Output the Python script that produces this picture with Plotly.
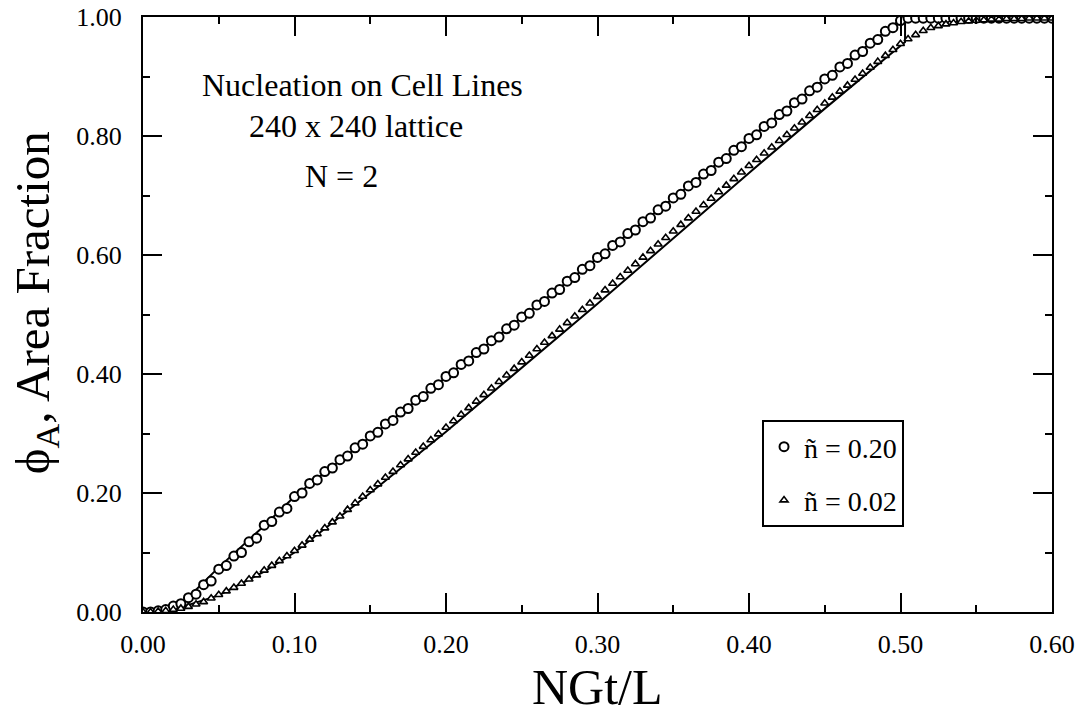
import plotly.graph_objects as go

# ---- data -------------------------------------------------------------
x_step = 0.005
x_pts = [round(i * x_step, 3) for i in range(121)]  # NGt/L sample times 0.000 ... 0.600

# n~ = 0.20 (circles)
phi_n020 = [
    0.000, 0.000, 0.002, 0.004, 0.010, 0.014, 0.024, 0.030, 0.046, 0.052,
    0.072, 0.078, 0.094, 0.100, 0.118, 0.124, 0.146, 0.152, 0.168, 0.174,
    0.194, 0.200, 0.216, 0.222, 0.236, 0.242, 0.256, 0.262, 0.276, 0.282,
    0.296, 0.302, 0.316, 0.322, 0.336, 0.342, 0.356, 0.362, 0.376, 0.382,
    0.396, 0.402, 0.416, 0.422, 0.436, 0.442, 0.456, 0.462, 0.476, 0.482,
    0.496, 0.502, 0.516, 0.522, 0.536, 0.542, 0.556, 0.562, 0.576, 0.582,
    0.596, 0.602, 0.616, 0.622, 0.636, 0.642, 0.656, 0.662, 0.676, 0.682,
    0.696, 0.702, 0.716, 0.722, 0.736, 0.742, 0.756, 0.762, 0.776, 0.782,
    0.796, 0.802, 0.816, 0.822, 0.836, 0.842, 0.856, 0.862, 0.876, 0.882,
    0.896, 0.902, 0.916, 0.922, 0.936, 0.942, 0.956, 0.962, 0.976, 0.982,
    0.994, 0.998, 0.998, 0.998, 0.998, 0.998, 0.998, 0.998, 0.998, 0.998,
    0.998, 0.998, 0.998, 0.998, 0.998, 0.998, 0.998, 0.998, 0.998, 0.998,
    0.998,
]

# n~ = 0.02 (triangles)
phi_n002 = [
    0.000, 0.000, 0.001, 0.002, 0.004, 0.006, 0.009, 0.013, 0.017, 0.023,
    0.029, 0.035, 0.041, 0.048, 0.055, 0.062, 0.070, 0.078, 0.086, 0.094,
    0.103, 0.112, 0.122, 0.131, 0.141, 0.151, 0.161, 0.172, 0.183, 0.194,
    0.205, 0.215, 0.226, 0.236, 0.247, 0.257, 0.268, 0.278, 0.289, 0.299,
    0.310, 0.321, 0.332, 0.343, 0.354, 0.365, 0.376, 0.387, 0.398, 0.409,
    0.420, 0.431, 0.442, 0.453, 0.464, 0.475, 0.486, 0.497, 0.508, 0.519,
    0.530, 0.541, 0.552, 0.563, 0.574, 0.585, 0.596, 0.607, 0.618, 0.629,
    0.640, 0.651, 0.662, 0.673, 0.684, 0.695, 0.706, 0.717, 0.728, 0.739,
    0.750, 0.760, 0.771, 0.781, 0.792, 0.802, 0.813, 0.823, 0.834, 0.844,
    0.855, 0.865, 0.875, 0.885, 0.895, 0.905, 0.915, 0.925, 0.935, 0.945,
    0.955, 0.963, 0.970, 0.977, 0.982, 0.985, 0.988, 0.990, 0.992, 0.993,
    0.994, 0.995, 0.996, 0.996, 0.997, 0.997, 0.997, 0.998, 0.998, 0.998,
    0.998,
]

# solid reference curves
line_a_x = [0.000, 0.010, 0.020, 0.030, 0.050, 0.080, 0.100, 0.500, 0.600]
line_a_y = [0.000, 0.002, 0.010, 0.025, 0.075, 0.145, 0.194, 0.996, 0.998]

line_b_x = [0.000, 0.020, 0.050, 0.080, 0.100, 0.150, 0.200, 0.300, 0.400, 0.450, 0.503, 0.503, 0.600]
line_b_y = [0.000, 0.004, 0.028, 0.068, 0.100, 0.200, 0.303, 0.518, 0.738, 0.846, 0.958, 1.000, 1.000]

series_names = ["ñ = 0.20", "ñ = 0.02"]
x_ticks = [0.0, 0.1, 0.2, 0.3, 0.4, 0.5, 0.6]
y_ticks = [0.0, 0.2, 0.4, 0.6, 0.8, 1.0]
note_lines = ["Nucleation on Cell Lines", "240 x 240 lattice", "N = 2"]

FONT = "Liberation Serif, Times New Roman, serif"

# ---- figure -----------------------------------------------------------
fig = go.Figure()

fig.add_trace(go.Scatter(x=line_a_x, y=line_a_y, mode="lines",
                         line=dict(color="black", width=2), showlegend=False, hoverinfo="skip"))
fig.add_trace(go.Scatter(x=line_b_x, y=line_b_y, mode="lines",
                         line=dict(color="black", width=2), showlegend=False, hoverinfo="skip"))

fig.add_trace(go.Scatter(
    x=x_pts, y=phi_n020, mode="markers", name=series_names[0], legendgroup="a",
    marker=dict(symbol="circle", size=9, color="white", line=dict(color="black", width=2)),
))
fig.add_trace(go.Scatter(
    x=x_pts, y=phi_n002, mode="markers", name=series_names[1], legendgroup="b",
    marker=dict(symbol="triangle-up", size=7, color="white", line=dict(color="black", width=1.6)),
))

axis_common = dict(
    showline=True, linecolor="black", linewidth=2, mirror="ticks",
    ticks="inside", ticklen=19, tickwidth=1.5, tickcolor="black",
    showgrid=False, zeroline=False, tickformat=".2f",
    tickfont=dict(family=FONT, size=26, color="black"),
)

fig.update_xaxes(range=[0, 0.6], tickvals=x_ticks, ticklabelstandoff=8,
                 minor=dict(dtick=0.05, ticks="inside", ticklen=7, tickwidth=1.5, tickcolor="black"),
                 **axis_common)
fig.update_yaxes(range=[0, 1.0], tickvals=y_ticks, ticklabelstandoff=14,
                 minor=dict(dtick=0.1, ticks="inside", ticklen=7, tickwidth=1.5, tickcolor="black"),
                 **axis_common)

annotations = [
    dict(text=note_lines[0], x=0.242, y=0.886),
    dict(text=note_lines[1], x=0.234, y=0.817),
    dict(text=note_lines[2], x=0.218, y=0.733),
]
annotations = [dict(a, xref="paper", yref="paper", xanchor="center", yanchor="middle",
                    showarrow=False, font=dict(family=FONT, size=32, color="black"))
               for a in annotations]
annotations.append(dict(text="NGt/L", xref="paper", yref="paper", x=0.5, y=-0.126,
                        xanchor="center", yanchor="middle", showarrow=False,
                        font=dict(family=FONT, size=50, color="black")))
annotations.append(dict(text="ϕ<sub>A</sub>, Area Fraction", xref="paper", yref="paper",
                        x=-0.118, y=0.52, xanchor="center", yanchor="middle", textangle=-90,
                        showarrow=False, font=dict(family=FONT, size=49, color="black")))

fig.update_layout(
    width=1085, height=720,
    margin=dict(l=143, r=33, t=17, b=108, autoexpand=False),
    paper_bgcolor="white", plot_bgcolor="white",
    font=dict(family=FONT, color="black"),
    annotations=annotations,
    legend=dict(x=0.681, y=0.3227, xanchor="left", yanchor="top",
                bordercolor="black", borderwidth=2, bgcolor="white",
                font=dict(family=FONT, size=28, color="black"),
                traceorder="grouped", tracegroupgap=14, itemwidth=30),
)

fig.write_html("out.html")
